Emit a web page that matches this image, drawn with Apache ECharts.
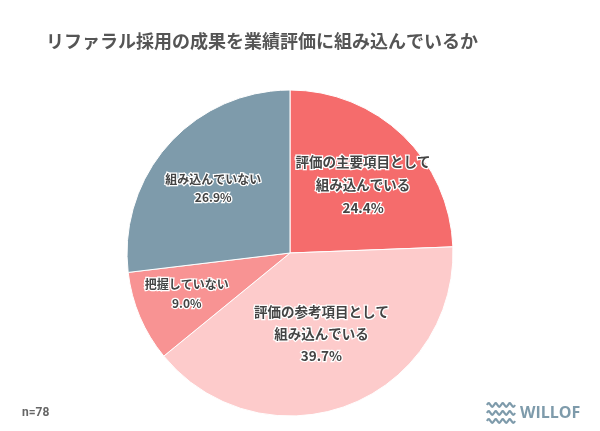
<!DOCTYPE html>
<html><head><meta charset="utf-8">
<script src="https://cdn.jsdelivr.net/npm/echarts@6/dist/echarts.min.js"></script>
<style>html,body{margin:0;padding:0;background:#fff}#c{width:600px;height:431px}</style>
</head><body><div id="c"></div>
<script>
const categories = ["評価の主要項目として\n組み込んでいる", "評価の参考項目として\n組み込んでいる", "把握していない", "組み込んでいない"];
const values = [24.4, 39.7, 9.0, 26.9];
const colors = ["#F56C6C", "#FDCBCB", "#F89393", "#7E9BAB"];
const labelRadii = [98, 83, 107, 97];
const labelNudge = [[3, 5], [1, 0], [-2, -2], [-2, 2]];
const labelFont = [13.5, 13.5, 12, 12];
const labelLineH = [23, 22, 19, 18];

const center = [290, 253];
const R = 163;
const data = categories.map((n, i) => ({ name: n, value: values[i], itemStyle: { color: colors[i] } }));

const series = [{
  type: 'pie', center: center, radius: [0, R], startAngle: 90, clockwise: true,
  silent: true, label: { show: false }, labelLine: { show: false },
  itemStyle: { borderColor: '#fff', borderWidth: 1 },
  data: data
}];
labelRadii.forEach((d, i) => {
  series.push({
    type: 'pie', center: center, radius: [d - 8, d + 8], startAngle: 90, clockwise: true,
    silent: true, z: 5,
    labelLine: { show: false },
    itemStyle: { color: 'rgba(0,0,0,0)' },
    data: categories.map((n, j) => ({
      name: n, value: values[j],
      label: {
        show: j === i, position: 'inside', offset: labelNudge[i],
        formatter: p => p.name + '\n' + p.value.toFixed(1) + '%',
        fontSize: labelFont[i], fontWeight: 'bold', color: '#444', lineHeight: labelLineH[i],
        fontFamily: '"Noto Sans CJK JP", sans-serif',
        textBorderColor: '#fff', textBorderWidth: 2.5
      }
    }))
  });
});

function wave(y) {
  const pts = [];
  for (let k = 0; k <= 16; k++) {
    pts.push([487 + k * 1.75, y + (k % 4 === 1 ? -1.8 : k % 4 === 3 ? 1.8 : 0)]);
  }
  return { type: 'polyline', shape: { points: pts, smooth: 0.5 }, style: { stroke: '#7E9BAB', lineWidth: 2.2, fill: null } };
}

const chart = echarts.init(document.getElementById('c'));
chart.setOption({
  backgroundColor: '#fff',
  animation: false,
  title: {
    text: 'リファラル採用の成果を業績評価に組み込んでいるか',
    left: 41, top: 27,
    textStyle: { fontSize: 18, fontWeight: 'bold', color: '#555', fontFamily: '"Noto Sans CJK JP", sans-serif' }
  },
  graphic: [
    { type: 'text', left: 22, top: 407, style: { text: 'n=78', fontSize: 12, fontWeight: 'bold', fill: '#666', fontFamily: 'Roboto, sans-serif' } },
    wave(405), wave(413), wave(421),
    { type: 'text', left: 520, top: 405, style: { text: 'WILLOF', fontSize: 16, fontWeight: 'bold', fill: '#7E9BAB', fontFamily: '"Open Sans", sans-serif' } }
  ],
  series: series
});
</script></body></html>
